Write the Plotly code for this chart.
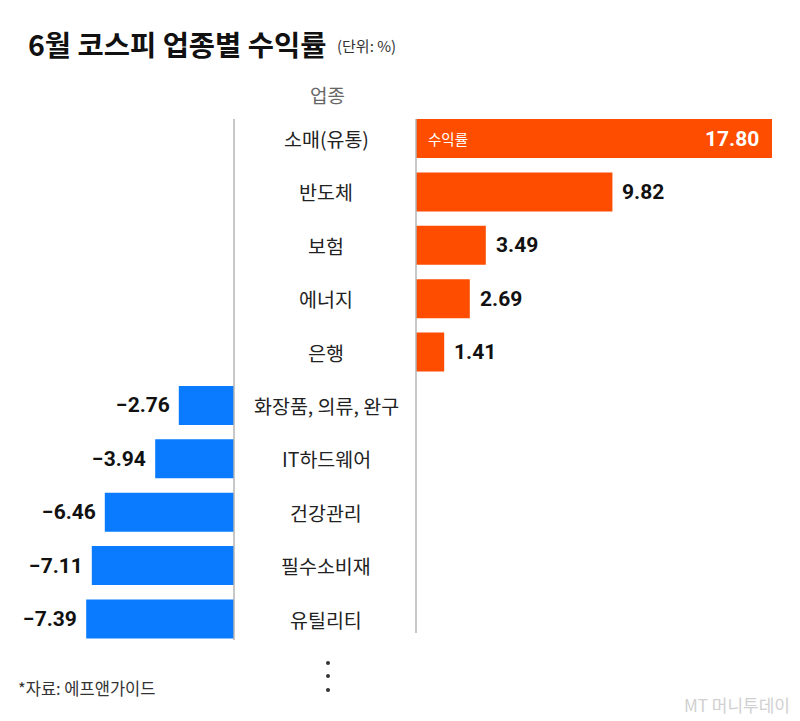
import plotly.graph_objects as go

# ---- data ----
categories = ["소매(유통)", "반도체", "보험", "에너지", "은행",
              "화장품, 의류, 완구", "IT하드웨어", "건강관리", "필수소비재", "유틸리티"]
returns = [17.80, 9.82, 3.49, 2.69, 1.41, -2.76, -3.94, -6.46, -7.11, -7.39]

title_text = "6월 코스피 업종별 수익률"
unit_text = "(단위: %)"
header_text = "업종"
series_name = "수익률"
source_text = "*자료: 에프앤가이드"
watermark_text = "MT 머니투데이"

ORANGE = "#FF4D00"
BLUE = "#0A7BFF"
FONT = "Noto Sans CJK KR"
W, H = 800, 721

def fmt(v):
    return ("−" if v < 0 else "") + f"{abs(v):.2f}"

pos_vals = [v if v > 0 else None for v in returns]
neg_vals = [v if v < 0 else None for v in returns]

fig = go.Figure()
fig.add_trace(go.Bar(y=categories, x=neg_vals, orientation="h", marker_color=BLUE,
                     marker_line_width=0, width=0.73, xaxis="x", yaxis="y",
                     hoverinfo="skip", showlegend=False))
fig.add_trace(go.Bar(y=categories, x=pos_vals, orientation="h", marker_color=ORANGE,
                     marker_line_width=0, width=0.73, xaxis="x2", yaxis="y",
                     hoverinfo="skip", showlegend=False))

NUMFONT = "Roboto"
annotations = []
# value labels
for i, (c, v) in enumerate(zip(categories, returns)):
    if v > 0:
        if i == 0:
            annotations.append(dict(x=v, y=c, xref="x2", yref="y", text=fmt(v),
                                    xanchor="right", xshift=-11, showarrow=False,
                                    font=dict(family=NUMFONT, size=21, color="white", weight="bold")))
        else:
            annotations.append(dict(x=v, y=c, xref="x2", yref="y", text=fmt(v),
                                    xanchor="left", xshift=8, showarrow=False,
                                    font=dict(family=NUMFONT, size=21, color="#111", weight="bold")))
    else:
        annotations.append(dict(x=v, y=c, xref="x", yref="y", text=fmt(v),
                                xanchor="right", xshift=-7, showarrow=False,
                                font=dict(family=NUMFONT, size=21, color="#111", weight="bold")))
    # category label
    annotations.append(dict(x=326 / W, y=c, xref="paper", yref="y", text=c,
                            xanchor="center", showarrow=False,
                            font=dict(family=FONT, size=19.5, color="#222")))

# series name inside first bar
annotations.append(dict(x=0, y=categories[0], xref="x2", yref="y", text=series_name,
                        xanchor="left", xshift=10, showarrow=False,
                        font=dict(family=FONT, size=14.5, color="white")))

def py(p):
    return 1 - p / H

annotations += [
    dict(x=26 / W, y=py(44), xref="paper", yref="paper", text=title_text, xanchor="left",
         yanchor="middle", showarrow=False,
         font=dict(family=FONT, size=28.5, color="#111", weight="bold")),
    dict(x=335 / W, y=py(46), xref="paper", yref="paper", text=unit_text, xanchor="left",
         yanchor="middle", showarrow=False, font=dict(family=FONT, size=15, color="#333")),
    dict(x=327 / W, y=py(95), xref="paper", yref="paper", text=header_text, xanchor="center",
         yanchor="middle", showarrow=False, font=dict(family=FONT, size=19, color="#666")),
    dict(x=16 / W, y=py(688), xref="paper", yref="paper", text=source_text, xanchor="left",
         yanchor="middle", showarrow=False, font=dict(family=FONT, size=16.5, color="#333")),
    dict(x=792 / W, y=py(704), xref="paper", yref="paper", text=watermark_text, xanchor="right",
         yanchor="middle", showarrow=False, font=dict(family=FONT, size=17, color="#d0d0d0")),
]

shapes = [
    dict(type="line", xref="paper", yref="paper", x0=234 / W, x1=234 / W, y0=py(119), y1=py(640),
         line=dict(color="#b5b5b5", width=1.5)),
    dict(type="line", xref="paper", yref="paper", x0=416 / W, x1=416 / W, y0=py(119), y1=py(633),
         line=dict(color="#b5b5b5", width=1.5)),
]
for cy in (663, 676, 690):
    shapes.append(dict(type="circle", xref="paper", yref="paper",
                       x0=(328 - 2) / W, x1=(328 + 2) / W, y0=py(cy + 2), y1=py(cy - 2),
                       fillcolor="#333", line=dict(width=0)))

# y range: category 0 centred at 138.5px, category 9 at 619px
pitch = (619 - 138.5) / 9
y_top = 0 - 138.5 / pitch
y_bot = 9 + (H - 619) / pitch
px_per_unit = 20.0

fig.update_layout(
    width=W, height=H,
    margin=dict(l=0, r=0, t=0, b=0),
    paper_bgcolor="white", plot_bgcolor="white",
    barmode="overlay",
    xaxis=dict(domain=[0, 1], range=[-234 / px_per_unit, (W - 234) / px_per_unit],
               visible=False, fixedrange=True),
    xaxis2=dict(domain=[0, 1], range=[-416 / px_per_unit, (W - 416) / px_per_unit],
                overlaying="x", visible=False, fixedrange=True),
    yaxis=dict(type="category", categoryorder="array", categoryarray=categories,
               range=[y_bot, y_top], visible=False, fixedrange=True),
    annotations=annotations,
    shapes=shapes,
    showlegend=False,
)

fig.write_html("out.html", config={"displayModeBar": False})
